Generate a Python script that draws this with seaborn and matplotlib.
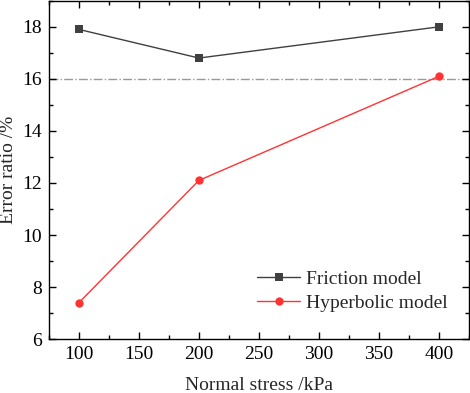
import matplotlib
matplotlib.use("Agg")
import matplotlib.pyplot as plt
import seaborn as sns
import pandas as pd
from matplotlib.ticker import MultipleLocator

stress = [100, 200, 400]
friction = [17.9, 16.8, 18.0]
hyperbolic = [7.4, 12.1, 16.1]
threshold = 16.0
series_names = ["Friction model", "Hyperbolic model"]

df = pd.DataFrame({
    "stress": stress * 2,
    "error": friction + hyperbolic,
    "model": [series_names[0]] * 3 + [series_names[1]] * 3,
})

sns.set_style("ticks")
plt.rcParams["font.family"] = ["Liberation Serif", "DejaVu Serif"]
plt.rcParams["xtick.direction"] = "in"
plt.rcParams["ytick.direction"] = "in"

fig = plt.figure(figsize=(4.7, 3.93), dpi=100)
ax = fig.add_axes([0.104, 0.137, 0.894, 0.861])

palette = {series_names[0]: "#404040", series_names[1]: "#ff3333"}
sns.lineplot(data=df, x="stress", y="error", hue="model", style="model",
             markers={series_names[0]: "s", series_names[1]: "o"},
             dashes=False, palette=palette, ax=ax, linewidth=1.0,
             markersize=6, markeredgewidth=0)

ax.axhline(threshold, color="#999999", linestyle="-.", linewidth=1.0, zorder=0)

ax.set_xlim(75, 425)
ax.set_ylim(6, 19)
ax.xaxis.set_major_locator(MultipleLocator(50))
ax.xaxis.set_minor_locator(MultipleLocator(25))
ax.yaxis.set_major_locator(MultipleLocator(2))
ax.yaxis.set_minor_locator(MultipleLocator(1))
ax.tick_params(which="both", top=True, right=True, labelsize=14, colors="black")
ax.tick_params(which="major", length=5, width=1, pad=5)
ax.tick_params(which="minor", length=3, width=1)
for s in ax.spines.values():
    s.set_linewidth(1.0)
    s.set_color("black")

ax.set_xlabel("Normal stress /kPa", fontsize=14, labelpad=10)
ax.set_ylabel("Error ratio /%", fontsize=14, labelpad=4)

leg = ax.legend(loc="lower right", bbox_to_anchor=(0.99, 0.03), frameon=False,
                fontsize=14, handlelength=2.2, handletextpad=0.3, labelspacing=0.3)

fig.savefig("out.png", dpi=100)
